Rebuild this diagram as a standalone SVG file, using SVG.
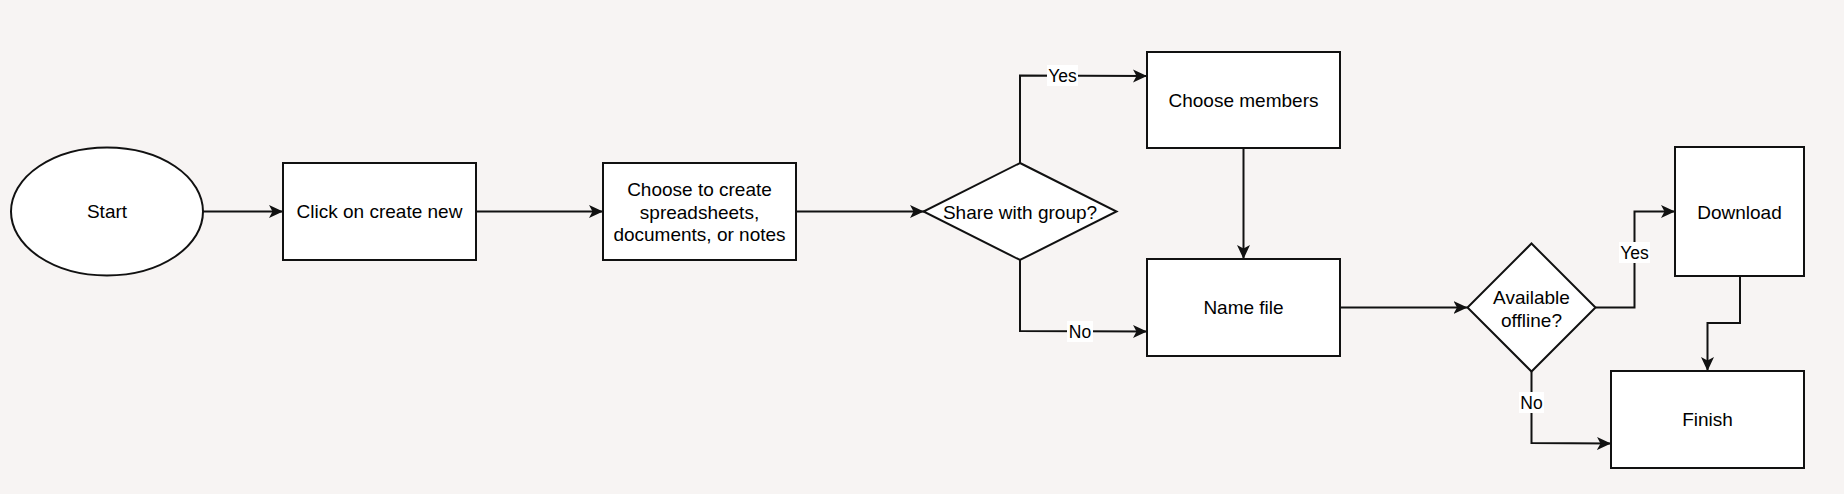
<svg xmlns="http://www.w3.org/2000/svg" width="1844" height="494" viewBox="0 0 1844 494">
<style>
.n{fill:#fff;stroke:#111;stroke-width:2}
.t{font-family:"Liberation Sans",Arial,Helvetica,sans-serif;font-size:19px;fill:#000;text-anchor:middle;dominant-baseline:central}
.l{font-family:"Liberation Sans",Arial,Helvetica,sans-serif;font-size:17.5px;fill:#000;text-anchor:middle;dominant-baseline:central}
.e{fill:none;stroke:#111;stroke-width:2}
.lb{fill:#fff}
</style>
<defs>
<marker id="arr" markerUnits="userSpaceOnUse" markerWidth="16" markerHeight="16" refX="14" refY="7.5" orient="auto">
<path d="M0,1 L14,7.5 L0,14 L3.5,7.5 Z" fill="#111"/>
</marker>
</defs>
<rect x="0" y="0" width="1844" height="494" fill="#f7f4f3"/>
<g id="connectors">
<path class="e" d="M203,211.5 L283,211.5" marker-end="url(#arr)"/>
<path class="e" d="M476,211.5 L603,211.5" marker-end="url(#arr)"/>
<path class="e" d="M796,211.5 L924,211.5" marker-end="url(#arr)"/>
<path class="e" d="M1020,163 L1020,75.5 L1147,76" marker-end="url(#arr)"/>
<path class="e" d="M1020,260 L1020,331 L1147,331.5" marker-end="url(#arr)"/>
<path class="e" d="M1243.5,148 L1243.5,259" marker-end="url(#arr)"/>
<path class="e" d="M1340,307.5 L1467.5,307.5" marker-end="url(#arr)"/>
<path class="e" d="M1595.5,307.5 L1634.5,307.5 L1634.5,211.5 L1675,211.5" marker-end="url(#arr)"/>
<path class="e" d="M1740,276 L1740,323 L1707.5,323 L1707.5,371" marker-end="url(#arr)"/>
<path class="e" d="M1531.5,371.5 L1531.5,443 L1611,443.5" marker-end="url(#arr)"/>
<rect class="lb" x="1047" y="65" width="31" height="21"/>
<text class="l" x="1062.5" y="76">Yes</text>
<rect class="lb" x="1067" y="321" width="26" height="21"/>
<text class="l" x="1080" y="332">No</text>
<rect class="lb" x="1619" y="242" width="31" height="21"/>
<text class="l" x="1634.5" y="252.5">Yes</text>
<rect class="lb" x="1519" y="392" width="25" height="21"/>
<text class="l" x="1531.5" y="402.5">No</text>
</g>
<g id="start">
<ellipse class="n" cx="107" cy="211.5" rx="96" ry="64"/>
<text class="t" x="107" y="211.5">Start</text>
</g>
<g id="click-create">
<rect class="n" x="283" y="163" width="193" height="97"/>
<text class="t" x="379.5" y="211.5">Click on create new</text>
</g>
<g id="choose-create">
<rect class="n" x="603" y="163" width="193" height="97"/>
<text class="t" x="699.5" y="189.5">Choose to create</text>
<text class="t" x="699.5" y="212">spreadsheets,</text>
<text class="t" x="699.5" y="234.5">documents, or notes</text>
</g>
<g id="share-group">
<polygon class="n" points="1020,163 1116.5,211.5 1020,260 923.5,211.5"/>
<text class="t" x="1020" y="212">Share with group?</text>
</g>
<g id="choose-members">
<rect class="n" x="1147" y="52" width="193" height="96"/>
<text class="t" x="1243.5" y="100">Choose members</text>
</g>
<g id="name-file">
<rect class="n" x="1147" y="259" width="193" height="97"/>
<text class="t" x="1243.5" y="307.5">Name file</text>
</g>
<g id="available-offline">
<polygon class="n" points="1531.5,243.5 1595.5,307.5 1531.5,371.5 1467.5,307.5"/>
<text class="t" x="1531.5" y="297.5">Available</text>
<text class="t" x="1531.5" y="320">offline?</text>
</g>
<g id="download">
<rect class="n" x="1675" y="147" width="129" height="129"/>
<text class="t" x="1739.5" y="212">Download</text>
</g>
<g id="finish">
<rect class="n" x="1611" y="371" width="193" height="97"/>
<text class="t" x="1707.5" y="419.5">Finish</text>
</g>
</svg>
